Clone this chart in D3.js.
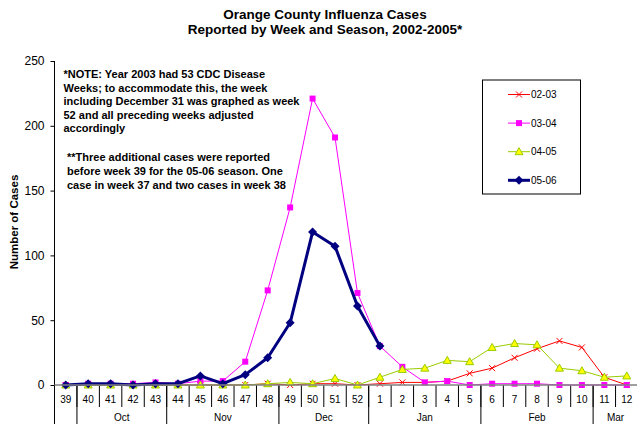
<!DOCTYPE html>
<html><head><meta charset="utf-8">
<script src="https://cdn.jsdelivr.net/npm/d3@7"></script>
<style>
body{margin:0;background:#fff;}
svg{display:block;font-family:"Liberation Sans",Arial,sans-serif;}
</style></head>
<body><svg id="c" width="637" height="424"></svg>
<script>
const weeks = ["39","40","41","42","43","44","45","46","47","48","49","50","51","52","1","2","3","4","5","6","7","8","9","10","11","12"];
const s0203 = [0,0,0,0,0,0,0,0,0,1,0,1,1,0,1,2,2,3,9,13,21,28,34,29,6,0];
const s0304 = [0,1,1,1,2,1,3,3,18,73,137,221,191,71,30,14,2,3,0,1,1,1,0,0,0,0];
const s0405 = [0,0,0,0,0,0,0,0,0,1,2,1,5,0,6,12,13,19,18,29,32,31,13,11,6,7];
const s0506 = [0,1,1,0,1,1,7,1,8,21,48,118,107,61,30,null,null,null,null,null,null,null,null,null,null,null];
const seriesNames = ["02-03","03-04","04-05","05-06"];
const yTicks = [0,50,100,150,200,250];
const monthLabels = ["","Oct","Nov","Dec","Jan","Feb","Mar"];
const monthStart = ["39","40","44","49","1","6","11"];
const monthEnd = ["39","43","48","52","5","10","12"];
const titleLines = ["Orange County Influenza Cases","Reported by Week and Season, 2002-2005*"];
const note1 = ["*NOTE: Year 2003 had 53 CDC Disease","Weeks; to accommodate this, the week","including December 31 was graphed as week","52 and all preceding weeks adjusted","accordingly"];
const note2 = ["**Three additional cases were reported","before week 39 for the 05-06 season. One","case in week 37 and two cases in week 38"];

const svg = d3.select("#c");
const L = 54.5, R = 638, T = 61, B = 385;
const x = d3.scaleBand().domain(weeks).range([L, R]);
const y = d3.scaleLinear().domain([0,250]).range([B, T]);
const cx = w => x(w) + x.bandwidth()/2;

// title
svg.append("g").selectAll("text").data(titleLines).join("text")
  .attr("x", 325).attr("y", (d,i)=>18.5+i*15)
  .attr("text-anchor","middle").attr("font-size","13.5px").attr("font-weight","bold").text(d=>d);

// y axis
const yAx = svg.append("g").attr("transform",`translate(${L},0)`)
  .call(d3.axisLeft(y).tickValues(yTicks).tickSize(4).tickPadding(6));
yAx.select(".domain").remove();
yAx.selectAll("line").attr("stroke","#000");
yAx.selectAll("text").attr("font-size","12px").attr("font-family","Liberation Sans, Arial, sans-serif").attr("fill","#000");
svg.append("line").attr("x1",L).attr("x2",L).attr("y1",T).attr("y2",424).attr("stroke","#000");

svg.append("text").attr("transform","translate(18,222) rotate(-90)")
  .attr("text-anchor","middle").attr("font-size","11.5px").attr("font-weight","bold").text("Number of Cases");

// x axis: week ticks at band boundaries
svg.append("g").selectAll("line").data(weeks.slice(1)).join("line")
  .attr("x1",d=>x(d)).attr("x2",d=>x(d)).attr("y1",B).attr("y2",407).attr("stroke","#000").attr("stroke-width",1);
svg.append("g").selectAll("line").data(monthStart.slice(1)).join("line")
  .attr("x1",d=>x(d)).attr("x2",d=>x(d)).attr("y1",B).attr("y2",424).attr("stroke","#000").attr("stroke-width",1);
svg.append("g").selectAll("text").data(weeks).join("text")
  .attr("x",d=>cx(d)).attr("y",403).attr("text-anchor","middle").attr("font-size","10px").text(d=>d);
svg.append("g").selectAll("text").data(monthLabels).join("text")
  .attr("x",(d,i)=>(x(monthStart[i]) + x(monthEnd[i]) + x.bandwidth())/2).attr("y",421)
  .attr("text-anchor","middle").attr("font-size","10px").text(d=>d);

// notes
svg.append("g").selectAll("text").data(note1).join("text")
  .attr("x",63.5).attr("y",(d,i)=>78+i*13.5).attr("font-size","11px").attr("font-weight","bold").text(d=>d);
svg.append("g").selectAll("text").data(note2).join("text")
  .attr("x",67).attr("y",(d,i)=>160.5+i*14).attr("font-size","11px").attr("font-weight","bold").text(d=>d);

// series
const styles = [
  {data:s0203, color:"#FF0000", width:1, marker:"x"},
  {data:s0304, color:"#FF00FF", width:1, marker:"square"},
  {data:s0405, color:"#99CC00", width:1, marker:"triangle"},
  {data:s0506, color:"#000080", width:3, marker:"diamond"}
];
const line = d3.line().defined(d=>d.v!=null).x(d=>cx(d.w)).y(d=>y(d.v));
function drawMarker(g, type, color, px, py){
  if(type==="x"){
    g.append("path").attr("d",`M${px-3},${py-3}L${px+3},${py+3}M${px-3},${py+3}L${px+3},${py-3}`)
      .attr("stroke",color).attr("stroke-width",1).attr("fill","none");
  } else if(type==="square"){
    g.append("rect").attr("x",px-3).attr("y",py-3).attr("width",6).attr("height",6).attr("fill",color);
  } else if(type==="triangle"){
    g.append("path").attr("d",`M${px},${py-4}L${px+4},${py+3}L${px-4},${py+3}Z`)
      .attr("fill","#FFFF00").attr("stroke",color).attr("stroke-width",1);
  } else {
    g.append("path").attr("d",`M${px},${py-4.5}L${px+4.5},${py}L${px},${py+4.5}L${px-4.5},${py}Z`).attr("fill",color);
  }
}
styles.forEach(s=>{
  const pts = weeks.map((w,i)=>({w, v:s.data[i]}));
  const g = svg.append("g");
  g.append("path").attr("d",line(pts)).attr("fill","none").attr("stroke",s.color).attr("stroke-width",s.width).attr("stroke-linejoin","round");
  pts.filter(p=>p.v!=null).forEach(p=>drawMarker(g, s.marker, s.color, cx(p.w), y(p.v)));
});

// x axis baseline (gray)
svg.append("line").attr("x1",L).attr("x2",R).attr("y1",B).attr("y2",B).attr("stroke","#808080").attr("stroke-width",1.5);

// legend
const lg = svg.append("g");
lg.append("rect").attr("x",482.5).attr("y",80).attr("width",98).attr("height",114).attr("fill","#fff").attr("stroke","#000").attr("stroke-width",1);
seriesNames.forEach((n,i)=>{
  const yy = 94.5 + i*28.6;
  const s = styles[i];
  lg.append("line").attr("x1",508).attr("x2",530).attr("y1",yy).attr("y2",yy).attr("stroke",s.color).attr("stroke-width",s.width);
  drawMarker(lg, s.marker, s.color, 519, yy);
  lg.append("text").attr("x",531).attr("y",yy+3.5).attr("font-size","10px").text(n);
});
</script></body></html>
